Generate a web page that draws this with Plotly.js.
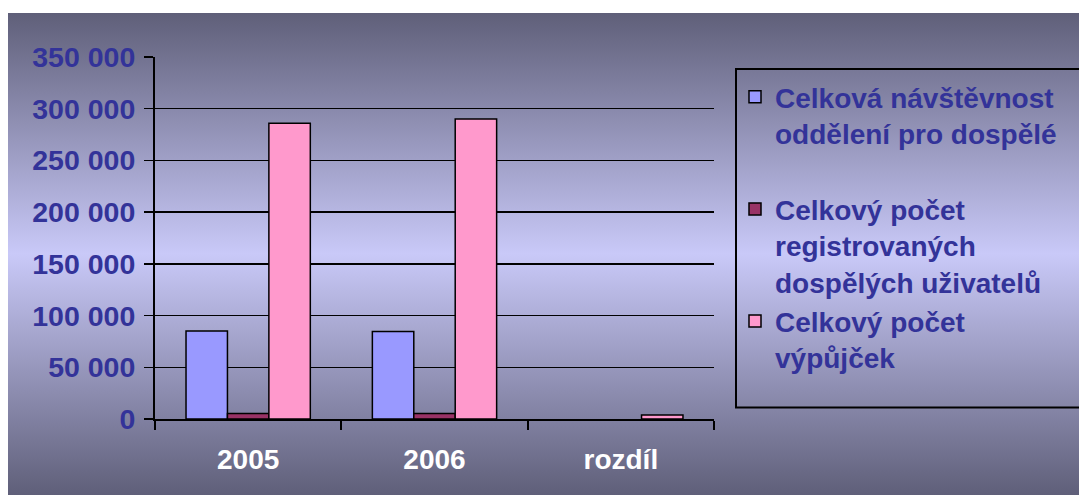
<!DOCTYPE html>
<html>
<head>
<meta charset="utf-8">
<script src="https://cdn.plot.ly/plotly-3.0.1.min.js"></script>
<style>
  html, body { margin: 0; padding: 0; background: #ffffff; }
  #wrap { position: relative; width: 1079px; height: 495px; overflow: hidden; background: #ffffff; }
  #bg { position: absolute; left: 8px; top: 13px; right: 0; bottom: 0;
        background: linear-gradient(to bottom, #5f5f79 0%, #c9c9f8 50%, #5f5f79 100%); }
  #chart { position: absolute; left: 0; top: 0; width: 1079px; height: 495px; }
</style>
</head>
<body>
<div id="wrap">
  <div id="bg"></div>
  <div id="chart"></div>
</div>
<script>
// ---- data ----
const categories = ["2005", "2006", "rozdíl"];
const seriesNames = [
  "Celková návštěvnost<br>oddělení pro dospělé<br> ",
  "Celkový počet<br>registrovaných<br>dospělých uživatelů",
  "Celkový počet<br>výpůjček"
];
const navstevnost = [85000, 84600, null];
const registrovani = [5300, 5300, null];
const vypujcky = [286000, 290000, 3900];
const yTickValues = [0, 50000, 100000, 150000, 200000, 250000, 300000, 350000];

const colors = ["#9999ff", "#993366", "#ff99cc"];
const values = [navstevnost, registrovani, vypujcky];

const FONT = "'Liberation Sans', Arial, sans-serif";

const traces = values.map((v, i) => ({
  type: "bar",
  name: seriesNames[i],
  x: categories,
  y: v,
  marker: { color: colors[i], line: { color: "#000000", width: 1.5 } },
  hoverinfo: "skip"
}));

const plotL = 155, plotR = 714, plotT = 57, plotB = 419;
const W = 1079, H = 495;
const pw = plotR - plotL, ph = plotB - plotT;
const px = v => (v - plotL) / pw;
const py = v => (plotB - v) / ph;

const layout = {
  width: W, height: H,
  margin: { l: plotL, r: W - plotR, t: plotT, b: H - plotB, pad: 0 },
  paper_bgcolor: "rgba(0,0,0,0)",
  plot_bgcolor: "rgba(0,0,0,0)",
  separators: ", ",
  barmode: "group",
  bargap: 0.333,
  bargroupgap: 0,
  showlegend: true,
  font: { family: FONT, size: 28, color: "#333399", weight: 700 },
  xaxis: {
    type: "category",
    tickson: "boundaries",
    ticks: "outside", ticklen: 9, tickwidth: 2, tickcolor: "#000000",
    showline: true, linecolor: "#000000", linewidth: 2,
    showgrid: false, zeroline: false,
    tickfont: { family: FONT, size: 28, color: "#ffffff", weight: 700 },
    ticklabelstandoff: 14,
    fixedrange: true
  },
  yaxis: {
    range: [0, 350000],
    tickvals: yTickValues,
    tickformat: ",d",
    ticks: "outside", ticklen: 9, tickwidth: 1.5, tickcolor: "#000000",
    showline: true, linecolor: "#000000", linewidth: 2,
    showgrid: true, gridcolor: "#000000", gridwidth: 1.5,
    zeroline: false,
    tickfont: { family: FONT, size: 28.5, color: "#333399", weight: 700 },
    ticklabelstandoff: 3,
    fixedrange: true
  },
  legend: {
    x: px(735), xanchor: "left",
    y: py(72), yanchor: "top",
    bgcolor: "rgba(0,0,0,0)",
    borderwidth: 0,
    valign: "top",
    traceorder: "normal",
    font: { family: FONT, size: 28, color: "#333399", weight: 700 }
  },
  shapes: [{
    type: "rect", xref: "paper", yref: "paper",
    x0: px(736), x1: px(1090), y0: py(407.5), y1: py(69),
    line: { color: "#000000", width: 2 },
    fillcolor: "rgba(0,0,0,0)", layer: "below"
  }]
};

Plotly.newPlot("chart", traces, layout, { displayModeBar: false, staticPlot: true });
</script>
</body>
</html>
